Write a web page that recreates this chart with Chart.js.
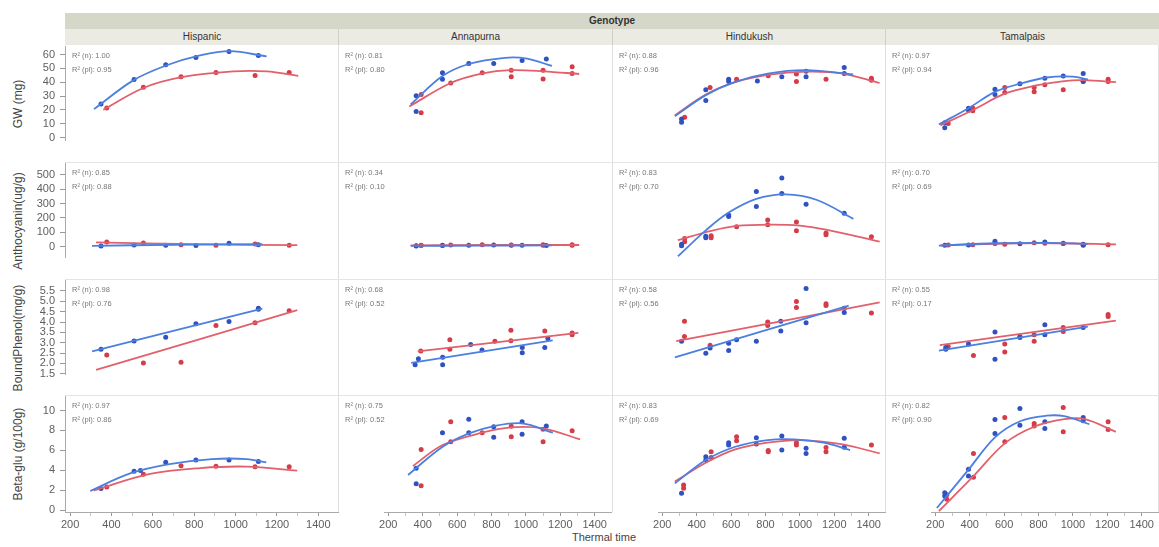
<!DOCTYPE html>
<html>
<head>
<meta charset="utf-8">
<title>Genotype by thermal time</title>
<script src="https://cdn.jsdelivr.net/npm/chart.js@4.4.1/dist/chart.umd.min.js"></script>
<style>
  html, body { margin: 0; padding: 0; background: #fff; }
  #fig { position: relative; width: 1159px; height: 547px; overflow: hidden;
         font-family: "Liberation Sans", Arial, sans-serif; color: #333; }
  #fig canvas { position: absolute; }
  .band { position: absolute; box-sizing: border-box; text-align: center; font-size: 10px; line-height: 16px; color: #333; }
  .rule { position: absolute; background: #dedede; }
  .ytitle { position: absolute; width: 130px; height: 16px; line-height: 16px; text-align: center;
            font-size: 12px; color: #444; transform: rotate(-90deg); white-space: nowrap; }
  .r2 { position: absolute; font-size: 7.5px; line-height: 14px; color: #777; white-space: nowrap; }
  .xtitle { position: absolute; width: 120px; text-align: center; font-size: 11px; color: #444; }
</style>
</head>
<body>
<div id="fig"></div>
<script>
// ---- categories and labels ----
const genotypes = ['Hispanic', 'Annapurna', 'Hindukush', 'Tamalpais'];
const traitTitles = ['GW (mg)', 'Anthocyanin(ug/g)', 'BoundPhenol(mg/g)', 'Beta-glu (g/100g)'];
const thermalTicks = [200, 400, 600, 800, 1000, 1200, 1400];
const gwTicks = [0, 10, 20, 30, 40, 50, 60];
const anthoTicks = [0, 100, 200, 300, 400, 500];
const phenolTicks = [1.5, 2.0, 2.5, 3.0, 3.5, 4.0, 4.5, 5.0, 5.5];
const betaTicks = [0, 2, 4, 6, 8, 10];

// R² of the fitted curves, per trait row, per genotype
const r2N  = [[1.00, 0.81, 0.88, 0.97], [0.85, 0.34, 0.83, 0.70], [0.98, 0.68, 0.58, 0.55], [0.97, 0.75, 0.83, 0.82]];
const r2Pl = [[0.95, 0.80, 0.96, 0.94], [0.88, 0.10, 0.70, 0.69], [0.76, 0.52, 0.56, 0.17], [0.86, 0.52, 0.69, 0.90]];

// ---- GW (mg): [thermal time, value], one list per genotype ----
const gwN = [
  [[349,24.4],[509,42.1],[662,52.7],[808,57.9],[968,62.3],[1110,59.4]],
  [[362,29.8],[362,18.6],[515,46.0],[515,41.4],[668,52.7],[813,52.7],[978,54.8],[1119,55.8]],
  [[312,13.3],[312,11.0],[453,34.0],[453,26.4],[586,41.4],[586,39.8],[753,40.2],[895,43.3],[1036,47.1],[1036,43.3],[1258,49.8],[1258,45.6]],
  [[255,7.0],[255,10.5],[393,20.8],[393,19.5],[547,34.4],[547,30.6],[692,38.3],[837,42.1],[944,43.7],[1060,45.6],[1060,39.8]]
];
const gwPl = [
  [[377,21.5],[554,36.4],[736,44.0],[905,47.1],[1094,45.0],[1259,47.1]],
  [[391,30.6],[391,17.7],[563,38.8],[746,46.0],[915,47.9],[915,43.3],[1100,47.9],[1100,41.7],[1269,50.4],[1269,45.6]],
  [[330,14.5],[478,35.6],[632,41.4],[816,44.0],[980,45.2],[980,39.8],[1152,41.4],[1416,42.1],[1416,40.8]],
  [[275,10.0],[418,19.0],[418,21.0],[604,35.6],[604,32.1],[775,35.6],[775,32.5],[837,37.5],[944,34.0],[1060,40.0],[1205,41.4],[1205,39.8]]
];
const gwFitN = [
  [[315,20.6],[505,41.4],[667,52.3],[828,59.4],[973,62.5],[1150,58.7]],
  [[330,23.5],[515,43.7],[668,52.3],[878,56.7],[1007,56.1],[1152,50.9]],
  [[273,15.2],[453,30.2],[624,39.6],[813,45.5],[1036,47.9],[1310,45.0]],
  [[221,9.4],[393,20.9],[547,32.5],[693,38.3],[847,42.7],[1001,43.3],[1087,41.4]]
];
const gwFitPl = [
  [[360,20.2],[554,35.9],[739,43.7],[989,47.9],[1150,47.9],[1303,44.6]],
  [[322,22.1],[563,38.8],[749,45.6],[910,47.9],[1103,47.1],[1310,45.2]],
  [[273,15.8],[453,30.6],[624,39.4],[813,44.6],[1036,46.9],[1241,45.6],[1464,38.8]],
  [[230,8.7],[419,19.6],[604,31.2],[779,36.9],[950,40.2],[1070,40.8],[1250,39.4]]
];

// ---- Anthocyanin (ug/g) ----
const anthoN = [
  [[349,4],[509,12],[662,10],[808,8],[968,24],[1110,14]],
  [[362,5],[362,3],[515,6],[515,8],[668,8],[813,10],[978,8],[1119,7]],
  [[312,15],[312,5],[453,70],[453,60],[586,215],[586,205],[747,376],[747,274],[895,468],[895,363],[1036,289],[1258,228]],
  [[255,8],[393,10],[547,35],[547,20],[692,18],[837,30],[944,20],[1060,15],[1060,8]]
];
const anthoPl = [
  [[377,32],[554,26],[736,14],[905,10],[1094,18],[1259,10]],
  [[391,8],[391,6],[563,10],[746,12],[915,10],[915,8],[1100,12],[1100,8],[1269,9],[1269,11]],
  [[330,55],[330,33],[484,74],[484,60],[632,135],[813,182],[813,148],[980,167],[980,107],[1152,93],[1152,80],[1416,67]],
  [[275,10],[418,12],[604,15],[775,25],[837,22],[944,22],[1060,12],[1205,12]]
];
const anthoFitN = [
  [[306,6],[700,13],[1129,18]],
  [[330,4],[750,6],[1150,7]],
  [[291,-67],[453,110],[586,232],[747,326],[917,357],[1100,318],[1311,189]],
  [[221,6],[550,22],[850,25],[1087,18]]
];
const anthoFitPl = [
  [[325,30],[800,17],[1298,10]],
  [[330,8],[800,10],[1310,10]],
  [[290,43],[484,107],[632,141],[830,150],[1000,143],[1152,115],[1464,33]],
  [[230,8],[600,20],[900,22],[1250,14]]
];

// ---- BoundPhenol (mg/g) ----
const phenolN = [
  [[349,2.69],[509,3.08],[662,3.27],[808,3.92],[968,4.02],[1110,4.67],[1110,4.62]],
  [[356,1.93],[375,2.21],[516,1.93],[516,2.28],[679,2.89],[745,2.63],[979,2.75],[979,2.50],[1110,2.75],[1128,3.18]],
  [[312,3.05],[453,2.47],[478,2.73],[586,2.95],[586,2.60],[632,3.12],[747,3.05],[889,4.00],[889,3.53],[1036,5.55],[1036,3.92],[1258,4.61],[1258,4.41]],
  [[261,2.67],[261,2.75],[393,2.92],[547,3.48],[547,2.19],[692,3.27],[692,3.22],[837,3.83],[837,3.35],[1060,3.70]]
];
const phenolPl = [
  [[377,2.41],[554,2.02],[736,2.06],[905,3.83],[1094,3.96],[1259,4.54]],
  [[389,2.58],[558,2.67],[558,3.12],[820,3.05],[913,3.57],[913,3.07],[1110,3.53],[1269,3.44],[1269,3.35]],
  [[329,3.99],[329,3.27],[478,2.86],[813,3.96],[813,3.79],[980,4.93],[980,4.65],[1152,4.83],[1152,4.74],[1416,4.39]],
  [[275,2.80],[422,2.37],[604,2.92],[604,2.54],[775,3.35],[775,3.05],[944,3.70],[944,3.51],[1205,4.31],[1205,4.22]]
];
const phenolFitN = [
  [[306,2.58],[1129,4.65]],
  [[333,2.02],[1156,3.09]],
  [[273,2.28],[1284,4.74]],
  [[221,2.60],[1087,3.74]]
];
const phenolFitPl = [
  [[325,1.69],[1298,4.57]],
  [[371,2.56],[1305,3.44]],
  [[281,3.05],[1464,4.89]],
  [[226,2.86],[1250,4.02]]
];

// ---- Beta-glu (g/100g) ----
const betaN = [
  [[349,2.15],[509,3.90],[540,3.96],[662,4.79],[808,5.02],[968,5.02],[1110,4.88]],
  [[362,4.13],[362,2.60],[515,7.65],[668,9.00],[668,7.65],[813,8.25],[813,7.20],[978,8.74],[978,7.52],[1119,8.32]],
  [[312,1.65],[453,5.28],[453,4.95],[586,6.67],[586,6.44],[747,7.16],[747,6.53],[895,7.33],[895,5.94],[1036,6.11],[1036,5.61],[1258,7.10],[1258,6.21]],
  [[255,1.39],[255,1.70],[393,4.03],[393,3.37],[547,8.98],[547,7.59],[692,10.07],[692,8.40],[837,8.74],[837,8.09],[1060,9.18],[1060,8.84]]
];
const betaPl = [
  [[377,2.31],[554,3.60],[736,4.45],[905,4.40],[1094,4.35],[1259,4.35]],
  [[391,6.00],[391,2.40],[563,8.74],[563,6.76],[746,7.65],[915,7.26],[915,8.30],[1100,6.76],[1100,8.00],[1269,7.85]],
  [[324,2.48],[324,2.15],[484,5.77],[484,5.20],[632,7.26],[632,6.86],[816,5.77],[816,5.90],[980,6.67],[980,6.44],[1152,5.77],[1152,6.20],[1416,6.44]],
  [[267,1.06],[267,1.50],[422,5.61],[422,3.24],[604,9.18],[604,6.76],[775,8.58],[775,8.32],[944,10.17],[944,7.75],[1205,8.74],[1205,7.99]]
];
const betaFitN = [
  [[297,1.91],[493,3.70],[680,4.62],[886,5.12],[1054,5.12],[1148,4.78]],
  [[315,3.47],[516,6.27],[670,7.59],[816,8.32],[979,8.58],[1157,7.66]],
  [[273,2.64],[453,4.95],[624,6.27],[813,6.93],[967,7.00],[1138,6.67],[1292,5.94]],
  [[209,0.2],[393,4.0],[547,7.2],[693,8.8],[847,9.35],[950,9.3],[1096,8.5]]
];
const betaFitPl = [
  [[315,1.98],[586,3.63],[830,4.22],[1054,4.36],[1298,3.96]],
  [[343,4.36],[516,6.44],[745,7.66],[913,8.19],[1100,8.09],[1315,7.00]],
  [[273,2.81],[453,4.68],[624,6.00],[813,6.67],[1000,6.93],[1241,6.53],[1464,5.61]],
  [[221,-0.1],[419,3.30],[604,6.60],[775,8.25],[950,9.0],[1070,9.0],[1250,7.75]]
];

// ---- layout ----
const COL_X = [65, 338, 612, 885], COL_W = 273;
const ROW_Y = [45, 162, 279, 395], ROW_H = 117;
const X_MIN = 175, X_MAX = 1495;
const PAD = 10, YAXIS_W = 46, XAXIS_H = 22;

const BLUE_LINE = '#4b7fe0', BLUE_PT = '#2f52c0';
const RED_LINE = '#e2606b', RED_PT = '#d43c48';
const AXIS_TXT = '#5e5e5e';

const rows = [
  { ticks: gwTicks,     min: -1.7, max: 65.8, n: gwN,     pl: gwPl,     fitN: gwFitN,     fitPl: gwFitPl,     fmt: v => String(v) },
  { ticks: anthoTicks,  min: -72,  max: 578,  n: anthoN,  pl: anthoPl,  fitN: anthoFitN,  fitPl: anthoFitPl,  fmt: v => String(v) },
  { ticks: phenolTicks, min: 1.49, max: 6.0,  n: phenolN, pl: phenolPl, fitN: phenolFitN, fitPl: phenolFitPl, fmt: v => v.toFixed(1) },
  { ticks: betaTicks,   min: -0.2, max: 11.4, n: betaN,   pl: betaPl,   fitN: betaFitN,   fitPl: betaFitPl,   fmt: v => String(v) }
];

// x tick marks every 100, labels every 200
const xTickValues = thermalTicks.flatMap((t, i) => i ? [t - 100, t] : [t]);

Chart.defaults.font.family = '"Liberation Sans", Arial, sans-serif';

const fig = document.getElementById('fig');

function el(cls, css, text) {
  const d = document.createElement('div');
  d.className = cls;
  Object.assign(d.style, css);
  if (text !== undefined) d.textContent = text;
  fig.appendChild(d);
  return d;
}
const px = v => v + 'px';

// header strips
el('band', { left: px(65), top: px(13), width: px(1094), height: px(16), background: '#d5d7c8', fontWeight: 'bold' }, 'Genotype');
genotypes.forEach((g, c) => {
  el('band', {
    left: px(COL_X[c]), top: px(29), width: px(c === 3 ? 1159 - COL_X[c] : COL_W + 1), height: px(16),
    background: '#ebebe4', borderLeft: c ? '1px solid #cfd0c6' : 'none'
  }, g);
});

// panel separators
[338, 612, 885, 1158].forEach(x => el('rule', { left: px(x), top: px(45), width: px(1), height: px(467) }));
[162, 279, 395].forEach(y => el('rule', { left: px(65), top: px(y), width: px(1094), height: px(1), background: '#e4e4e4' }));

// axis titles
traitTitles.forEach((t, r) => {
  el('ytitle', { left: px(18 - 65), top: px(ROW_Y[r] + ROW_H / 2 - 8) }, t);
});
el('xtitle', { left: px(604 - 60), top: px(531) }, 'Thermal time');

const toXY = arr => arr.map(([x, y]) => ({ x, y }));

function addPanel(r, c) {
  const row = rows[r];
  const showY = c === 0, showX = r === 3;
  const left = COL_X[c] - PAD - (showY ? YAXIS_W : 0);
  const top = ROW_Y[r] - PAD;
  const w = COL_W + 2 * PAD + (showY ? YAXIS_W : 0);
  const h = ROW_H + 2 * PAD + (showX ? XAXIS_H : 0);
  const cv = document.createElement('canvas');
  cv.width = w; cv.height = h;
  Object.assign(cv.style, { left: px(left), top: px(top), width: px(w), height: px(h) });
  fig.appendChild(cv);

  new Chart(cv, {
    type: 'scatter',
    data: {
      datasets: [
        { type: 'line', data: toXY(row.fitN[c]), borderColor: BLUE_LINE, borderWidth: 1.8, pointRadius: 0, tension: 0.35, fill: false },
        { type: 'line', data: toXY(row.fitPl[c]), borderColor: RED_LINE, borderWidth: 1.8, pointRadius: 0, tension: 0.35, fill: false },
        { data: toXY(row.n[c]), pointRadius: 2.5, pointBackgroundColor: BLUE_PT, pointBorderWidth: 0 },
        { data: toXY(row.pl[c]), pointRadius: 2.5, pointBackgroundColor: RED_PT, pointBorderWidth: 0 }
      ]
    },
    options: {
      responsive: false, animation: false, devicePixelRatio: 1, events: [],
      layout: { padding: { left: PAD, right: PAD, top: PAD, bottom: PAD } },
      plugins: { legend: { display: false }, tooltip: { enabled: false } },
      scales: {
        x: {
          type: 'linear', min: X_MIN, max: X_MAX, display: showX,
          afterBuildTicks: s => { s.ticks = xTickValues.map(v => ({ value: v })); },
          afterFit: s => { s.height = XAXIS_H; },
          ticks: {
            autoSkip: false, maxRotation: 0, padding: 2, color: AXIS_TXT, font: { size: 11 },
            callback: v => thermalTicks.includes(v) ? String(v) : ''
          },
          grid: {
            drawOnChartArea: false, drawTicks: true, tickLength: 4,
            tickColor: ctx => (ctx.tick && thermalTicks.includes(ctx.tick.value)) ? '#999' : '#c4c4c4'
          },
          border: { display: true, color: '#aaa' }
        },
        y: {
          type: 'linear', min: row.min, max: row.max, display: showY,
          afterBuildTicks: s => { s.ticks = row.ticks.map(v => ({ value: v })); },
          afterFit: s => { s.width = YAXIS_W; },
          ticks: { autoSkip: false, padding: 5, color: AXIS_TXT, font: { size: 11 }, callback: v => row.fmt(v) },
          grid: { drawOnChartArea: false, drawTicks: true, tickLength: 5, tickColor: '#999' },
          border: { display: true, color: '#aaa' }
        }
      }
    }
  });

  // R² captions in the panel corner
  el('r2', { left: px(COL_X[c] + 7), top: px(ROW_Y[r] + 4) },
     'R\u00b2 (n): ' + r2N[r][c].toFixed(2));
  el('r2', { left: px(COL_X[c] + 7), top: px(ROW_Y[r] + 18) },
     'R\u00b2 (pl): ' + r2Pl[r][c].toFixed(2));
}

for (let r = 0; r < 4; r++) for (let c = 0; c < 4; c++) addPanel(r, c);
</script>
</body>
</html>
